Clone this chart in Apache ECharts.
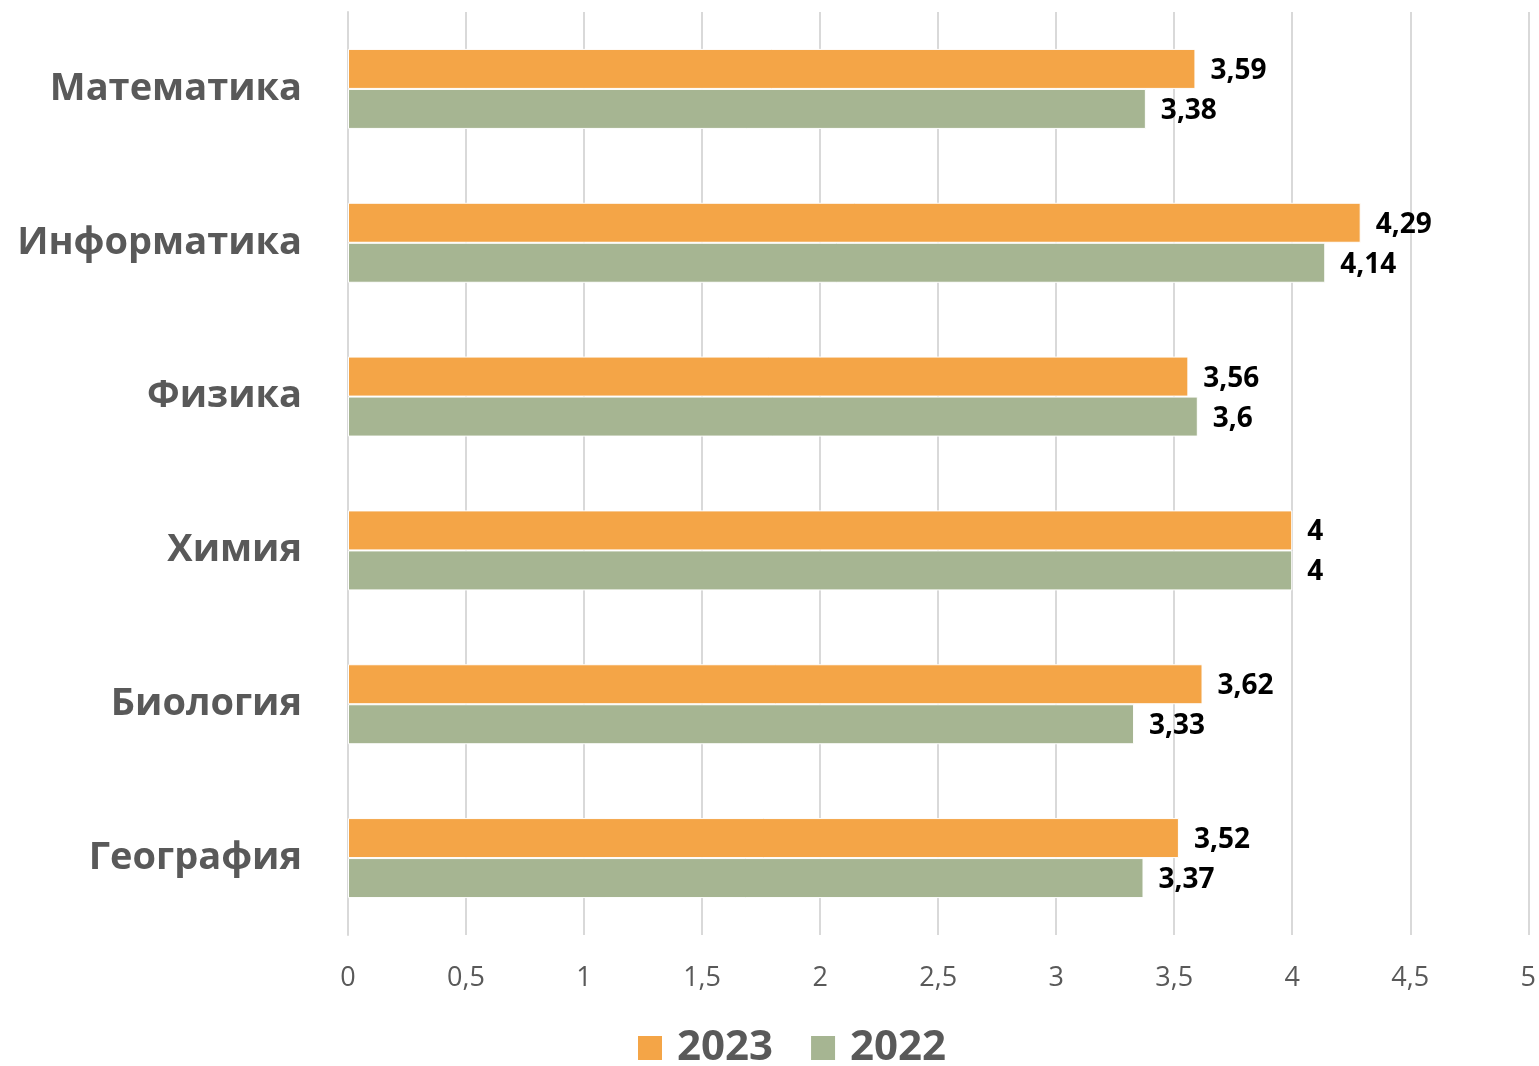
<!DOCTYPE html>
<html>
<head>
<meta charset="utf-8">
<script src="https://cdn.jsdelivr.net/npm/echarts@6/dist/echarts.min.js"></script>
<style>
  html, body { margin: 0; padding: 0; background: #fff; }
  #eChart { width: 1539px; height: 1066px; }
</style>
</head>
<body>
<div id="eChart"></div>
<script>
// данные
var subjects = ['Математика', 'Информатика', 'Физика', 'Химия', 'Биология', 'География'];
var values2023 = [3.59, 4.29, 3.56, 4, 3.62, 3.52];
var values2022 = [3.38, 4.14, 3.6, 4, 3.33, 3.37];

var font = '"Open Sans", "Noto Sans", sans-serif';

function comma(v) {
  return String(v).replace('.', ',');
}

var chart = echarts.init(document.getElementById('eChart'));
var option = {
  animation: false,
  textStyle: { fontFamily: font },
  legend: {
    top: 1022,
    left: 631,
    itemWidth: 26,
    itemHeight: 26,
    itemGap: 36,
    icon: 'rect',
    textStyle: { fontSize: 42, fontWeight: 'bold', color: '#595959', fontFamily: font, padding: [0, 0, 0, 9] },
    data: ['2023', '2022']
  },
  grid: {
    left: 348,
    right: 10,
    top: 12,
    bottom: 131
  },
  xAxis: {
    type: 'value',
    min: 0,
    max: 5,
    interval: 0.5,
    axisLine: { show: false },
    axisTick: { show: false },
    splitLine: { lineStyle: { color: '#d9d9d9', width: 2 } },
    axisLabel: {
      fontSize: 27,
      color: '#595959',
      margin: 30,
      formatter: function (v) { return comma(v); }
    }
  },
  yAxis: {
    type: 'category',
    inverse: true,
    data: subjects,
    axisLine: { show: true, lineStyle: { color: '#d9d9d9', width: 2 } },
    axisTick: { show: false },
    axisLabel: {
      fontSize: 38,
      fontWeight: 'bold',
      color: '#595959',
      margin: 46
    }
  },
  series: [
    {
      name: '2023',
      type: 'bar',
      data: values2023,
      barWidth: 40,
      barGap: '0%',
      itemStyle: { color: '#F4A547', borderColor: '#fff', borderWidth: 1 },
      label: {
        show: true,
        position: 'right',
        distance: 15,
        offset: [0, 2],
        fontSize: 28,
        fontWeight: 'bold',
        color: '#000',
        formatter: function (p) { return comma(p.value); }
      }
    },
    {
      name: '2022',
      type: 'bar',
      data: values2022,
      barWidth: 40,
      barGap: '0%',
      itemStyle: { color: '#A6B592', borderColor: '#fff', borderWidth: 1 },
      label: {
        show: true,
        position: 'right',
        distance: 15,
        offset: [0, 2],
        fontSize: 28,
        fontWeight: 'bold',
        color: '#000',
        formatter: function (p) { return comma(p.value); }
      }
    }
  ]
};
chart.setOption(option);
</script>
</body>
</html>
